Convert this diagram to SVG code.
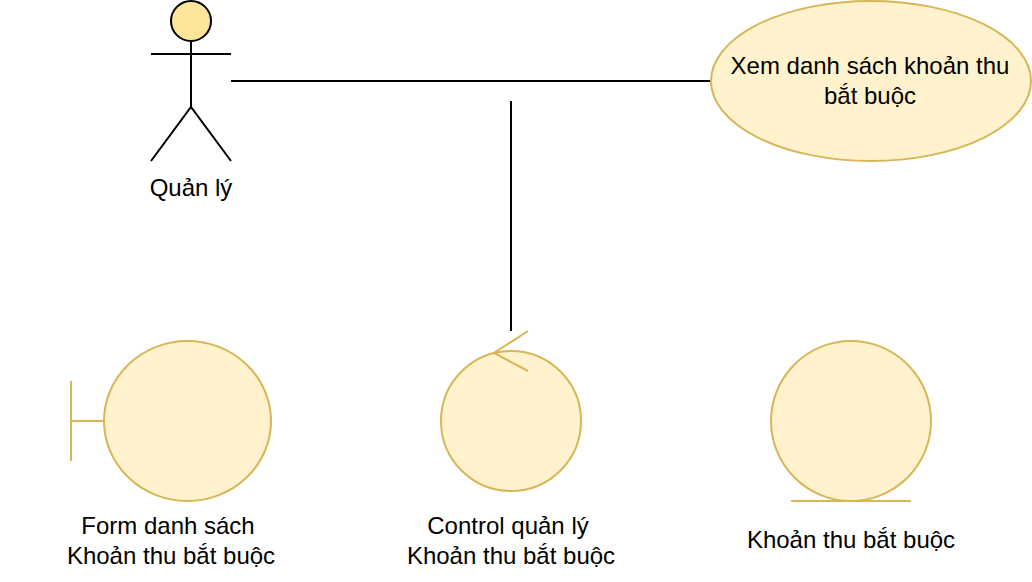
<svg xmlns="http://www.w3.org/2000/svg" width="1032" height="582" viewBox="0 0 1032 582">
<style>
.y{fill:#fff2cc;stroke:#d6b656;stroke-width:2}
.l{fill:none;stroke:#d6b656;stroke-width:2}
.k{fill:none;stroke:#000;stroke-width:2}
text{font-family:"Liberation Sans",Arial,sans-serif;font-size:24px;fill:#000;text-anchor:middle}
</style>
<rect width="1032" height="582" fill="#fff"/>
<g id="connectors">
<path class="k" d="M231 81H711"/>
<path class="k" d="M511 101V331"/>
</g>
<g id="actor">
<circle cx="191" cy="21" r="20" fill="#ffe599" stroke="#000" stroke-width="2"/>
<path class="k" d="M191 41V107M151 54H231M151 161L191 107L231 161"/>
<text x="191" y="196">Quản lý</text>
</g>
<g id="usecase">
<ellipse class="y" cx="871" cy="81" rx="160" ry="80"/>
<text x="870" y="74">Xem danh sách khoản thu</text>
<text x="870" y="104">bắt buộc</text>
</g>
<g id="boundary">
<ellipse class="y" cx="187.500" cy="421" rx="83.500" ry="80"/>
<path class="l" d="M71 381V461M71 421H104"/>
<text x="168" y="534">Form danh sách</text>
<text x="171" y="564">Khoản thu bắt buộc</text>
</g>
<g id="control">
<circle class="y" cx="511" cy="421" r="70"/>
<path class="l" d="M528 331L494 353L528 371"/>
<text x="508" y="534">Control quản lý</text>
<text x="511" y="564">Khoản thu bắt buộc</text>
</g>
<g id="entity">
<circle class="y" cx="851" cy="421" r="80"/>
<path class="l" d="M791 501H911"/>
<text x="851" y="548">Khoản thu bắt buộc</text>
</g>
</svg>
